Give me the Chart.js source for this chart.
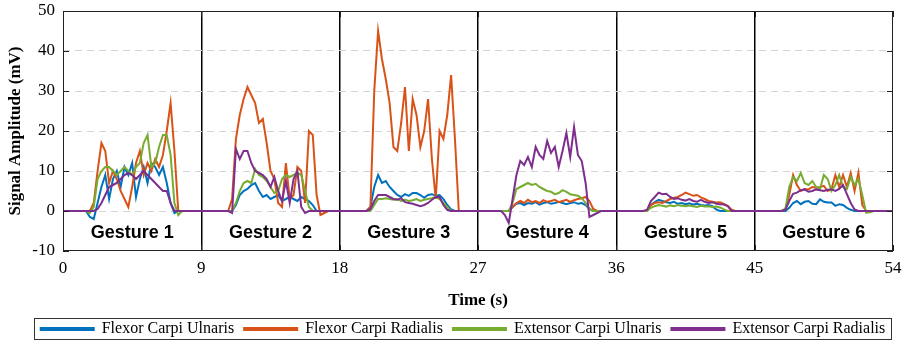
<!DOCTYPE html>
<html>
<head>
<meta charset="utf-8">
<script src="https://cdn.jsdelivr.net/npm/chart.js@4.4.0/dist/chart.umd.min.js"></script>
<style>
  html, body { margin: 0; padding: 0; background: #fff; }
</style>
</head>
<body>
<canvas id="myChart" width="909" height="341"></canvas>
<script>
// one sample every 0.25 s, each row = one 9 s gesture window (36 samples)
const sampleStep = 0.25;
const seriesNames = ['Flexor Carpi Ulnaris', 'Flexor Carpi Radialis', 'Extensor Carpi Ulnaris', 'Extensor Carpi Radialis'];
const seriesColors = ['#0072BD', '#D95319', '#77AC30', '#7E2F8E'];
const gestureNames = ['Gesture 1', 'Gesture 2', 'Gesture 3', 'Gesture 4', 'Gesture 5', 'Gesture 6'];
const timeTicks = [0, 9, 18, 27, 36, 45, 54];
const ampTicks = [-10, 0, 10, 20, 30, 40, 50];

const flexorUlnaris = [
  0,0,0,0,0,0,0,-1.5,-2,2,6,9,3,8,10,6,11,9,12,3.5,8,11,7,12,11,9,11,7,2,-0.5,0,0,0,0,0,0,
  0,0,0,0,0,0,0,0,0,1.5,4,5,5.5,6.5,7,5,3.5,4,3,3.5,4,2.5,3,3.5,3,2.5,3.5,3,2.5,1.5,0,0,0,0,0,0,
  0,0,0,0,0,0,0,0,1,6,9,7,7.5,6,5,4,3.5,4.2,3.8,4.5,4.5,4,3.3,4,4.2,3.8,4,3,1.5,0.4,0,0,0,0,0,0,
  0,0,0,0,0,0,0,0,0,1,1.8,2,1.5,2,1.8,2.2,1.6,2,2.2,1.8,2,2.3,2,1.7,2,2.2,1.8,2,1.5,0.5,0,0,0,0,0,0,
  0,0,0,0,0,0,0,0,0,1.5,2.2,2.8,2.5,2.2,2,2.3,1.8,2,1.7,1.9,1.6,1.8,1.5,1.4,1.5,1.2,0.4,0,0,0,0,0,0,0,0,0,
  0,0,0,0,0,0,0,0,0,0.8,2,2.5,1.7,2.3,2.5,1.8,1.7,2.9,2.3,2.1,2.1,1.3,1.7,1.5,0.8,0.3,0,0,0,0,0,0,0,0,0,0,
  0
];
const flexorRadialis = [
  0,0,0,0,0,0,0,0,2,10,17,15,7,10,8,5,3,1,6,12,15,9,12,10,13,11,14,20,27,15,0,0,0,0,0,0,
  0,0,0,0,0,0,0,0,3,18,24,28,31,29,27,22,23,17,10,8,2,1,12,3,4,11,10,2,20,19,4,-1,-0.5,0,0,0,
  0,0,0,0,0,0,0,0,1,30,45,38,33,27,16,15,22,31,15,28,24,16,20,28,13,3,20,18,24,34,18,0,0,0,0,0,
  0,0,0,0,0,0,0,0,0,1,2,2.5,2,2.8,2.2,2.5,2,2.7,2.3,2.5,2.8,2.2,2.5,2.8,2.3,2.7,3,3.2,3.5,2.5,0.5,0,0,0,0,0,
  0,0,0,0,0,0,0,0,0,1.5,2,2.2,2,2.5,3,3.3,3.5,4,4.6,4.2,3.8,4,3.4,3,2.5,2.3,2.1,2.2,1.8,1.3,0.3,0,0,0,0,0,
  0,0,0,0,0,0,0,0,0.5,4,9,6.5,5,5.5,5.4,6,5.8,6,6.3,5,5.5,9,6,9,6,9.5,5,9.6,1.5,0,0,0,0,0,0,0,
  0
];
const extensorUlnaris = [
  0,0,0,0,0,0,0,-0.5,1,8,10,11,11,10,9,10,11,10,9,11,12,17,19,11,12,16,19,19,14,2,-1,0,0,0,0,0,
  0,0,0,0,0,0,0,0,0,2,5,7,7.5,7,10.5,9,8.5,7.5,6,4.5,5,8,9,8.5,9,9.5,9,5,1,0,0,0,0,0,0,0,
  0,0,0,0,0,0,0,0,0,1.5,3,3,3.2,3,2.8,3,2.5,2.8,2.5,2.7,3,2.5,2.8,3,3.2,3.5,3,2,1,0,0,0,0,0,0,0,
  0,0,0,0,0,0,0,0,0,2,5.5,6,6.5,7,6.5,6.8,6,5.5,5,4.8,4.2,4.5,5.2,4.8,4.2,4,3.8,3.2,2,0.5,0,0,0,0,0,0,
  0,0,0,0,0,0,0,0,0,0.8,1.2,1.5,1.3,1.1,1.4,1.2,1.5,1.3,1.2,1.4,1.2,1,1.3,1.1,1.2,1,1.1,0.9,0.4,0,0,0,0,0,0,0,
  0,0,0,0,0,0,0,0,0.5,6,8.5,7.5,9.5,7,6.5,7.5,6,5.5,9,8,5,6.5,9,6,5.5,8.5,6.5,8,4,-0.4,-0.3,0,0,0,0,0,
  0
];
const extensorRadialis = [
  0,0,0,0,0,0,0,0,0,0.5,2,4,6,6.5,7,8,9,9.5,9,8,9,10,9,8,7,6,5,5,2,0,0,0,0,0,0,0,
  0,0,0,0,0,0,0,0,-0.5,15.5,13,15,15,12,10,9.5,9,8,6,8.5,5,2.5,7.5,2,8,10,1,-0.5,0,0,0,0,0,0,0,0,
  0,0,0,0,0,0,0,0,0.5,2.5,4,4,4,3.5,3,2.8,3.2,2.2,2,1.8,1.5,1.2,1.5,2,2.8,3.5,3.5,1.5,0.3,0,0,0,0,0,0,0,
  0,0,0,0,0,0,0,-1,-3,3,9,12.5,11.5,13.5,11,16,14,13,17.5,14.5,16,11,15,19.5,13.5,21,14,12.5,7,-1.5,-1,-0.5,0,0,0,0,
  0,0,0,0,0,0,0,0,0.3,2.5,3.5,4.6,4.2,4.3,3.5,3,3.2,2.8,2.6,3,2.5,2.3,2.8,2.3,2,2.2,1.8,1.7,1.6,1.2,0,0,0,0,0,0,
  0,0,0,0,0,0,0,0,0.3,2.5,4.3,4.6,5.2,5.4,4.8,5,5.4,5.2,5,5.3,5.4,5,5.5,6.5,4.2,2,0.4,0,0,0,0,0,0,0,0,0,
  0
];

const allSeries = [flexorUlnaris, flexorRadialis, extensorUlnaris, extensorRadialis];

function toPoints(values) {
  return values.map((v, i) => ({ x: i * sampleStep, y: v }));
}

// box around the plot area with small inward ticks (MATLAB "box on")
const plotFrame = {
  id: 'plotFrame',
  afterDraw(chart) {
    const { ctx, chartArea: a, scales } = chart;
    ctx.save();
    ctx.strokeStyle = '#222';
    ctx.lineWidth = 1;
    ctx.strokeRect(a.left + 0.5, a.top + 0.5, a.right - a.left - 1, a.bottom - a.top - 1);
    ctx.beginPath();
    ampTicks.forEach(v => {
      const y = Math.round(scales.y.getPixelForValue(v)) + 0.5;
      ctx.moveTo(a.left, y); ctx.lineTo(a.left + 6, y);
      ctx.moveTo(a.right, y); ctx.lineTo(a.right - 6, y);
    });
    timeTicks.forEach(v => {
      const x = Math.round(scales.x.getPixelForValue(v)) + 0.5;
      ctx.moveTo(x, a.bottom); ctx.lineTo(x, a.bottom - 6);
      ctx.moveTo(x, a.top); ctx.lineTo(x, a.top + 6);
    });
    ctx.stroke();
    ctx.restore();
  }
};

const gestureText = {
  id: 'gestureText',
  afterDatasetsDraw(chart) {
    const { ctx, scales } = chart;
    ctx.save();
    ctx.font = 'bold 18px "Liberation Sans", Arial, sans-serif';
    ctx.fillStyle = '#000';
    ctx.textAlign = 'center';
    ctx.textBaseline = 'middle';
    gestureNames.forEach((name, k) => {
      const x = scales.x.getPixelForValue(timeTicks[k] + 4.5);
      const y = scales.y.getPixelForValue(-5.6);
      ctx.fillText(name, x, y);
    });
    ctx.restore();
  }
};

// legend sits a bit right of the canvas centre, framed by a box
const legendBox = {
  id: 'legendBox',
  afterLayout(chart) {
    chart.legend.left += 17;
  },
  afterDraw(chart) {
    const boxes = chart.legend.legendHitBoxes;
    if (!boxes || !boxes.length) return;
    const ctx = chart.ctx;
    const first = boxes[0], last = boxes[boxes.length - 1];
    ctx.save();
    ctx.strokeStyle = '#333';
    ctx.lineWidth = 1;
    const l = Math.round(first.left) - 6.5;
    const r = Math.round(last.left + last.width) + 6.5;
    const t = Math.round(first.top) - 2.5;
    const b = Math.round(first.top + first.height) + 2.5;
    ctx.strokeRect(l, t, r - l, b - t);
    ctx.restore();
  }
};

const ctx = document.getElementById('myChart').getContext('2d');
const myChart = new Chart(ctx, {
  type: 'line',
  data: {
    datasets: allSeries.map((s, i) => ({
      label: seriesNames[i],
      data: toPoints(s),
      borderColor: seriesColors[i],
      backgroundColor: seriesColors[i],
      borderWidth: 2,
      pointRadius: 0,
      tension: 0,
      order: allSeries.length - i
    }))
  },
  options: {
    responsive: false,
    animation: false,
    layout: { padding: { left: 0, right: 0, top: 11, bottom: -6 } },
    plugins: {
      tooltip: { enabled: false },
      legend: {
        position: 'bottom',
        reverse: true,
        labels: {
          boxWidth: 53,
          boxHeight: 2,
          padding: 10,
          color: '#000',
          font: { family: '"Liberation Serif", "Times New Roman", serif', size: 16 }
        }
      }
    },
    scales: {
      x: {
        type: 'linear',
        min: 0,
        max: 54,
        afterBuildTicks: (scale) => { scale.ticks = timeTicks.map(v => ({ value: v })); },
        afterFit: (scale) => {
          scale.height = 60;
          scale.paddingRight = 16;
        },
        ticks: {
          color: '#000',
          padding: 7,
          font: { family: '"Liberation Serif", "Times New Roman", serif', size: 17 }
        },
        grid: {
          drawTicks: false,
          color: (c) => (c.tick && c.tick.value > 0 && c.tick.value < 54) ? '#000' : 'rgba(0,0,0,0)',
          lineWidth: 1.5
        },
        border: { display: false },
        title: {
          display: true,
          text: 'Time (s)',
          color: '#000',
          padding: { top: 2, bottom: 0 },
          font: { family: '"Liberation Serif", "Times New Roman", serif', size: 17, weight: 'bold' }
        }
      },
      y: {
        min: -10,
        max: 50,
        afterBuildTicks: (scale) => { scale.ticks = ampTicks.map(v => ({ value: v })); },
        afterFit: (scale) => {
          scale.width = 63;
          scale.paddingTop = 0;
          scale.paddingBottom = 0;
        },
        ticks: {
          color: '#000',
          padding: 8,
          font: { family: '"Liberation Serif", "Times New Roman", serif', size: 17 }
        },
        grid: {
          drawTicks: false,
          color: (c) => (c.tick && c.tick.value > -10 && c.tick.value < 50) ? '#d4d4d4' : 'rgba(0,0,0,0)',
          lineWidth: 1
        },
        border: { display: false, dash: [7, 5] },
        title: {
          display: true,
          text: 'Signal Amplitude (mV)',
          color: '#000',
          padding: { top: 5, bottom: 2 },
          font: { family: '"Liberation Serif", "Times New Roman", serif', size: 17, weight: 'bold' }
        }
      }
    }
  },
  plugins: [plotFrame, gestureText, legendBox]
});
</script>
</body>
</html>
